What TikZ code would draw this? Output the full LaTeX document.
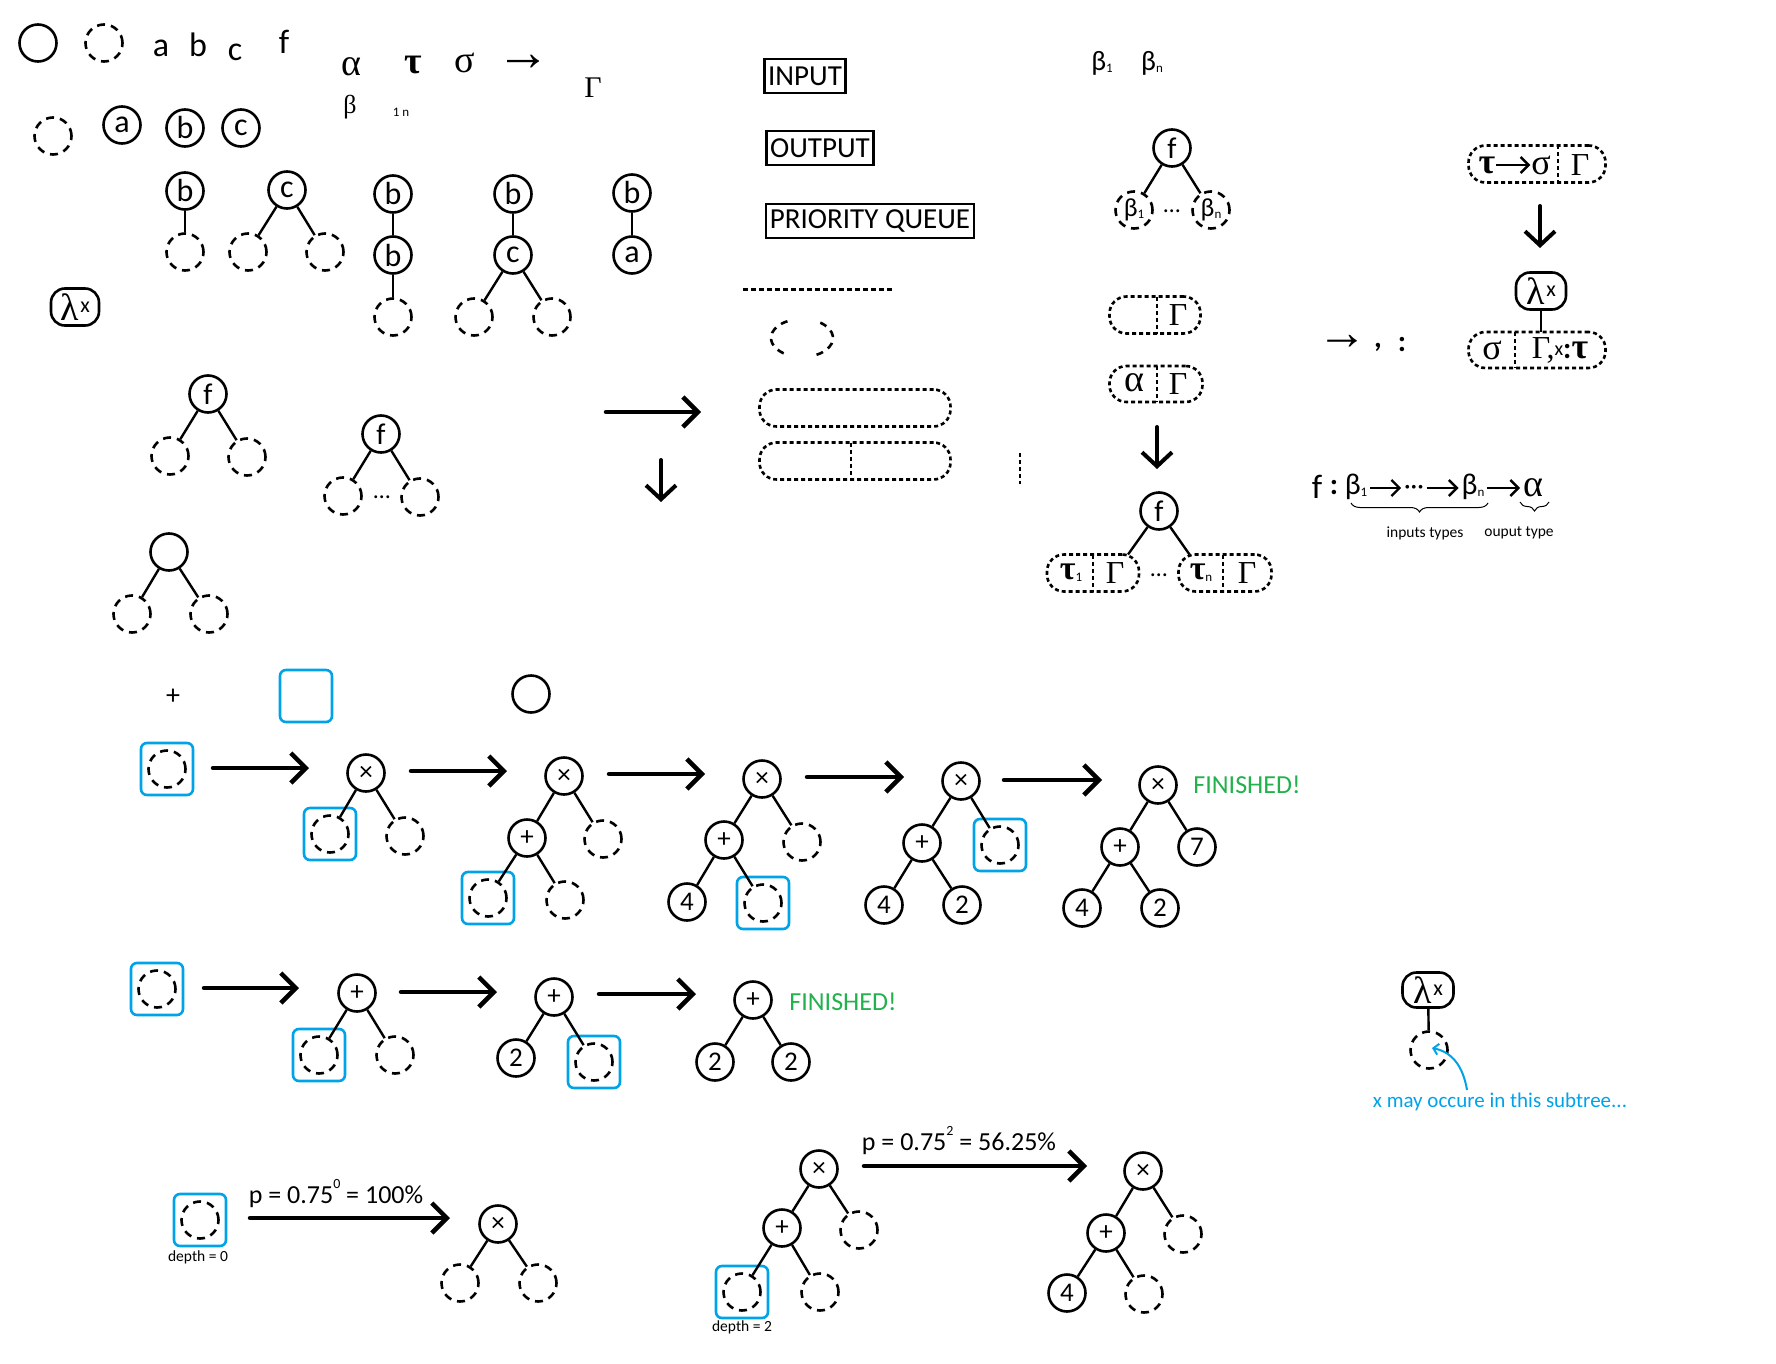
\documentclass[tikz,border=0pt]{standalone}
\usepackage{fontspec}
\setmainfont{Carlito}
\newfontfamily\grk{Liberation Serif}
\usetikzlibrary{arrows.meta, calc, decorations.pathreplacing}
\definecolor{pickblue}{RGB}{0,162,232}
\definecolor{donegreen}{RGB}{34,177,76}
\newcommand\fsz[1]{\fontsize{#1}{#1}\selectfont}
\newcommand\low[1]{\raisebox{-2pt}{\fsz{13}#1}}
\newcommand\sups[1]{\raisebox{15pt}{\fsz{14}#1}}
\newcommand\lamsym{{\grk\fsz{38}λ}\,\raisebox{8pt}{\fsz{22}x}}

\begin{document}
\begin{tikzpicture}[
    x=1pt, y=-1pt,
    leaf/.style={circle, draw, line width=2.6pt, minimum size=37pt, inner sep=0pt, font=\fsz{32}},
    hole/.style={leaf, dash pattern=on 8pt off 6pt},
    opnode/.style={leaf, font=\fsz{27}},
    num/.style={leaf, font=\fsz{27}},
    pick/.style={draw=pickblue, line width=2.6pt, rounded corners=6pt, minimum size=52pt, inner sep=0pt},
    link/.style={line width=2.4pt},
    bigarrow/.style={line width=4.5pt, line cap=round, -{Straight Barb[length=15pt,width=30pt]}},
    downarrow/.style={line width=4pt, line cap=round, -{Straight Barb[length=14pt,width=30pt]}},
    thinarrow/.style={line width=2.4pt, -{Straight Barb[length=8pt,width=16pt]}},
    hintarrow/.style={line width=2pt, pickblue, -{Straight Barb[length=5pt,width=11pt]}},
    capsule/.style={draw, line width=2.6pt, dash pattern=on 4pt off 3pt, rounded corners=17pt, minimum height=37pt, inner sep=0pt, outer sep=0pt},
    capline/.style={line width=2.6pt, dash pattern=on 4pt off 3pt},
    tag/.style={draw, line width=2.8pt, inner xsep=4pt, inner ysep=0pt, minimum height=34pt, font=\fsz{29}},
    lam/.style={draw, line width=2.6pt, rounded corners=14pt, minimum width=48pt, minimum height=37pt, inner sep=0pt},
    glyph/.style={inner sep=0pt, font=\fsz{34}},
    greek/.style={inner sep=0pt, font=\grk\fsz{38}},
    done/.style={inner sep=0pt, text=donegreen, font=\fsz{26}},
    minor/.style={inner sep=0pt, font=\fsz{15.5}},
    plabel/.style={inner sep=0pt, anchor=base, font=\fsz{26}},
    typebrace/.style={line width=1pt, decorate, decoration={brace, mirror, amplitude=9pt}}
]
    \useasboundingbox (0,0) rectangle (1776,1364);

    % glyph sheet
    \node[leaf] (plain) at (38,43) {};
    \node[hole] (open) at (104,43) {};
    \node[glyph] (ta) at (161,48) {a};
    \node[glyph] (tb) at (198,45) {b};
    \node[glyph] (tc) at (235,52) {c};
    \node[glyph] (tf) at (284,42) {f};
    \node[greek] (galpha) at (351,67) {α};
    \node[greek, font=\grk\bfseries\fsz{38}] (gtau) at (413,65) {τ};
    \node[greek] (gsigma) at (465,63) {σ};
    \node[greek, font=\grk\fsz{54}] (gto) at (523,63) {→};
    \node[greek, font=\grk\fsz{30}] (ggamma) at (593,88) {Γ};
    \node[greek, font=\grk\fsz{26}] (gbeta) at (350,107) {β};
    \node[inner sep=0pt, font=\fsz{13}] (gidx) at (401,112) {1 n};

    \node[hole] (free) at (53,136) {};
    \node[leaf] (la) at (122,125) {a};
    \node[leaf] (lb) at (185,128) {b};
    \node[leaf] (lc) at (241,128) {c};
    \node[lam] (lamx) at (75,307) {\lamsym};

    % small trees
    \node[leaf] (ub) at (185,191) {b};
    \node[hole] (ubk) at (185,252) {};
    \node[leaf] (bc) at (287,190) {c};
    \node[hole] (bcl) at (248,252) {};
    \node[hole] (bcr) at (325,252) {};
    \node[leaf] (bbt) at (393,194) {b};
    \node[leaf] (bbm) at (393,255) {b};
    \node[hole] (bbk) at (393,317) {};
    \node[leaf] (bct) at (513,194) {b};
    \node[leaf] (bcm) at (513,255) {c};
    \node[hole] (bcml) at (474,317) {};
    \node[hole] (bcmr) at (552,317) {};
    \node[leaf] (bat) at (632,193) {b};
    \node[leaf] (bak) at (632,255) {a};
    \draw[link] (ub) -- (ubk);
    \draw[link] (bc) -- (bcl);
    \draw[link] (bc) -- (bcr);
    \draw[link] (bbt) -- (bbm);
    \draw[link] (bbm) -- (bbk);
    \draw[link] (bct) -- (bcm);
    \draw[link] (bcm) -- (bcml);
    \draw[link] (bcm) -- (bcmr);
    \draw[link] (bat) -- (bak);

    \node[leaf, font=\fsz{30}] (fa) at (208,394) {f};
    \node[hole] (fal) at (170,456) {};
    \node[hole] (far) at (247,457) {};
    \node[leaf, font=\fsz{30}] (fn) at (381,434) {f};
    \node[hole] (fnl) at (343,496) {};
    \node[hole] (fnr) at (420,497) {};
    \node[inner sep=0pt, font=\fsz{24}] (fndots) at (382,497) {…};
    \node[leaf] (ea) at (169,552) {};
    \node[hole] (eal) at (132,614) {};
    \node[hole] (ear) at (209,614) {};
    \draw[link] (fa) -- (fal);
    \draw[link] (fa) -- (far);
    \draw[link] (fn) -- (fnl);
    \draw[link] (fn) -- (fnr);
    \draw[link] (ea) -- (eal);
    \draw[link] (ea) -- (ear);

    % arrows and boxes in the middle
    \coordinate (mr1) at (606,412);
    \coordinate (mr2) at (701,412);
    \coordinate (md1) at (661,460);
    \coordinate (md2) at (661,502);
    \draw[bigarrow] (mr1) -- (mr2);
    \draw[downarrow] (md1) -- (md2);

    \node[tag] (input) at (805,76) {INPUT};
    \node[tag] (output) at (820,148) {OUTPUT};
    \node[tag] (queue) at (870,221) {PRIORITY QUEUE};
    \draw[line width=3pt, dash pattern=on 5pt off 3pt] (743,289) -- (892,289);
    \draw[line width=2.6pt, dash pattern=on 7pt off 6pt] (802,338) ++(118:31pt and 19pt) arc[start angle=118, end angle=242, x radius=31pt, y radius=19pt];
    \draw[line width=2.6pt, dash pattern=on 7pt off 6pt] (802,338) ++(-62:31pt and 19pt) arc[start angle=-62, end angle=62, x radius=31pt, y radius=19pt];
    \node[capsule, minimum width=191pt] (cap1) at (855,408) {};
    \node[capsule, minimum width=191pt] (cap2) at (855,461) {};
    \draw[capline] (cap2.north -| 851,0) -- (cap2.south -| 851,0);
    \draw[capline] (1020,453) -- (1020,484);

    % application column
    \node[inner sep=0pt, font=\fsz{28}] (beta1) at (1102,63) {β\low{1}};
    \node[inner sep=0pt, font=\fsz{28}] (betan) at (1152,63) {β\low{n}};
    \node[leaf, font=\fsz{30}] (fb) at (1172,148) {f};
    \node[hole, font=\fsz{26}] (fb1) at (1134,210) {β\low{1}};
    \node[hole, font=\fsz{26}] (fbn) at (1211,210) {β\low{n}};
    \node[inner sep=0pt, font=\fsz{24}] (fbdots) at (1172,211) {…};
    \draw[link] (fb) -- (fb1);
    \draw[link] (fb) -- (fbn);

    \node[capsule, minimum width=91pt] (gcap) at (1155,315) {};
    \draw[capline] (gcap.north -| 1157,0) -- (gcap.south -| 1157,0);
    \node[greek, font=\grk\fsz{32}] (gcapg) at (1178,315) {Γ};
    \node[capsule, minimum width=93pt, minimum height=36pt] (acap) at (1156,384) {};
    \draw[capline] (acap.north -| 1157,0) -- (acap.south -| 1157,0);
    \node[greek] (acapa) at (1134,383) {α};
    \node[greek, font=\grk\fsz{32}] (acapg) at (1178,384) {Γ};
    \coordinate (ad1) at (1157,427);
    \coordinate (ad2) at (1157,469);
    \draw[downarrow] (ad1) -- (ad2);

    \node[leaf, font=\fsz{30}] (ft) at (1159,511) {f};
    \node[capsule, minimum width=92pt] (t1cap) at (1093,573) {};
    \draw[capline] (t1cap.north -| 1093,0) -- (t1cap.south -| 1093,0);
    \node[greek, font=\grk\bfseries\fsz{34}] (t1t) at (1071,573) {τ\low{\normalfont 1}};
    \node[greek, font=\grk\fsz{32}] (t1g) at (1115,573) {Γ};
    \node[capsule, minimum width=93pt] (tncap) at (1225,573) {};
    \draw[capline] (tncap.north -| 1223,0) -- (tncap.south -| 1223,0);
    \node[greek, font=\grk\bfseries\fsz{34}] (tnt) at (1201,573) {τ\low{\normalfont n}};
    \node[greek, font=\grk\fsz{32}] (tng) at (1247,573) {Γ};
    \node[inner sep=0pt, font=\fsz{24}] (tdots) at (1159,575) {…};
    \draw[link] (ft) -- ($(t1cap.north east)+(-11,0)$);
    \draw[link] (ft) -- ($(tncap.north west)+(11,0)$);

    % abstraction column
    \node[capsule, minimum width=137pt] (fcap) at (1537,164) {};
    \draw[capline] (fcap.north -| 1558,0) -- (fcap.south -| 1558,0);
    \node[greek, font=\grk\bfseries\fsz{36}, outer sep=1pt] (fct) at (1487,165) {τ};
    \node[greek, font=\grk\fsz{36}, outer sep=1pt] (fcs) at (1541,165) {σ};
    \node[greek, font=\grk\fsz{32}] (fcg) at (1580,165) {Γ};
    \draw[thinarrow] (fct.east |- fcs) -- (fcs.west);
    \coordinate (rd1) at (1540,206);
    \coordinate (rd2) at (1540,248);
    \draw[downarrow] (rd1) -- (rd2);
    \node[lam, minimum width=50pt] (lamr) at (1541,291) {\lamsym};
    \node[capsule, minimum width=137pt, minimum height=36pt] (bcap) at (1537,350) {};
    \draw[capline] (bcap.north -| 1515,0) -- (bcap.south -| 1515,0);
    \node[greek, font=\grk\fsz{36}] (bcs) at (1492,350) {σ};
    \node[inner sep=0pt] (bcrest) at (1560,350) {{\grk\fsz{32}Γ,}\raisebox{3pt}{\fsz{20}x}{\fsz{30}\bfseries :}{\grk\bfseries\fsz{36}τ}};
    \draw[link] (lamr.south) -- (lamr.south |- bcap.north);

    \node[greek, font=\grk\fsz{50}] (sto) at (1342,342) {→};
    \node[glyph, font=\bfseries\fsz{30}] (scomma) at (1378,347) {,};
    \node[glyph, font=\bfseries\fsz{30}] (scolon) at (1402,345) {:};

    % signature of f
    \coordinate (fmid) at (0,488);
    \node[glyph] (sf) at (1317,487) {f};
    \node[glyph, font=\bfseries\fsz{30}] (scol) at (1334,488) {:};
    \node[glyph, font=\fsz{30}, outer sep=3pt] (sb1) at (1356,487) {β\low{1}};
    \node[glyph, font=\fsz{26}, outer sep=3pt] (sdots) at (1414,490) {···};
    \node[glyph, font=\fsz{30}, outer sep=3pt] (sbn) at (1473,487) {β\low{n}};
    \node[greek, outer sep=3pt] (salpha) at (1533,488) {α};
    \draw[thinarrow] (sb1.east |- fmid) -- (sdots.west |- fmid);
    \draw[thinarrow] (sdots.east |- fmid) -- (sbn.west |- fmid);
    \draw[thinarrow] (sbn.east |- fmid) -- (salpha.west |- fmid);
    \draw[typebrace] (1351,503) -- (1488,503);
    \draw[typebrace] (1520,502) -- (1549,502);
    \node[minor] (intypes) at (1425,533) {inputs types};
    \node[minor] (outtype) at (1519,533) {ouput type};

    % search legend
    \node[glyph, font=\fsz{28}] (plus) at (173,697) {+};
    \node[pick] (emptypick) at (306,696) {};
    \node[leaf] (emptyleaf) at (531,694) {};

    % first expansion row
    \node[pick] (a0box) at (167,769) {};
    \node[hole] (a0) at (167,769) {};
    \node[opnode] (a1) at (366,773) {×};
    \node[pick] (a1lbox) at (330,834) {};
    \node[hole] (a1l) at (330,834) {};
    \node[hole] (a1r) at (405,836) {};
    \node[opnode] (a2) at (564,776) {×};
    \node[opnode] (a2l) at (527,838) {+};
    \node[hole] (a2r) at (603,839) {};
    \node[pick] (a2llbox) at (488,898) {};
    \node[hole] (a2ll) at (488,898) {};
    \node[hole] (a2lr) at (565,900) {};
    \node[opnode] (a3) at (762,779) {×};
    \node[opnode] (a3l) at (724,840) {+};
    \node[hole] (a3r) at (802,842) {};
    \node[num] (a3ll) at (687,902) {4};
    \node[pick] (a3lrbox) at (763,903) {};
    \node[hole] (a3lr) at (763,903) {};
    \node[opnode] (a4) at (961,781) {×};
    \node[opnode] (a4l) at (922,843) {+};
    \node[pick] (a4rbox) at (1000,845) {};
    \node[hole] (a4r) at (1000,845) {};
    \node[num] (a4ll) at (884,905) {4};
    \node[num] (a4lr) at (962,905) {2};
    \node[opnode] (a5) at (1158,785) {×};
    \node[opnode] (a5l) at (1120,847) {+};
    \node[num] (a5r) at (1197,847) {7};
    \node[num] (a5ll) at (1082,908) {4};
    \node[num] (a5lr) at (1160,908) {2};
    \node[done] (adone) at (1247,785) {FINISHED!};
    \draw[link] (a1) -- (a1l);
    \draw[link] (a1) -- (a1r);
    \draw[link] (a2) -- (a2l);
    \draw[link] (a2) -- (a2r);
    \draw[link] (a2l) -- (a2ll);
    \draw[link] (a2l) -- (a2lr);
    \draw[link] (a3) -- (a3l);
    \draw[link] (a3) -- (a3r);
    \draw[link] (a3l) -- (a3ll);
    \draw[link] (a3l) -- (a3lr);
    \draw[link] (a4) -- (a4l);
    \draw[link] (a4) -- (a4r);
    \draw[link] (a4l) -- (a4ll);
    \draw[link] (a4l) -- (a4lr);
    \draw[link] (a5) -- (a5l);
    \draw[link] (a5) -- (a5r);
    \draw[link] (a5l) -- (a5ll);
    \draw[link] (a5l) -- (a5lr);
    \coordinate (a01s) at (213,768);
    \coordinate (a01e) at (309,768);
    \coordinate (a12s) at (411,771);
    \coordinate (a12e) at (507,771);
    \coordinate (a23s) at (609,774);
    \coordinate (a23e) at (705,774);
    \coordinate (a34s) at (807,777);
    \coordinate (a34e) at (904,777);
    \coordinate (a45s) at (1004,780);
    \coordinate (a45e) at (1102,780);
    \draw[bigarrow] (a01s) -- (a01e);
    \draw[bigarrow] (a12s) -- (a12e);
    \draw[bigarrow] (a23s) -- (a23e);
    \draw[bigarrow] (a34s) -- (a34e);
    \draw[bigarrow] (a45s) -- (a45e);

    % second expansion row
    \node[pick] (b0box) at (157,989) {};
    \node[hole] (b0) at (157,989) {};
    \node[opnode] (b1) at (357,993) {+};
    \node[pick] (b1lbox) at (319,1055) {};
    \node[hole] (b1l) at (319,1055) {};
    \node[hole] (b1r) at (395,1055) {};
    \node[opnode] (b2) at (554,997) {+};
    \node[num] (b2l) at (516,1058) {2};
    \node[pick] (b2rbox) at (594,1062) {};
    \node[hole] (b2r) at (594,1062) {};
    \node[opnode] (b3) at (753,1000) {+};
    \node[num] (b3l) at (715,1062) {2};
    \node[num] (b3r) at (791,1062) {2};
    \node[done] (bdone) at (843,1002) {FINISHED!};
    \draw[link] (b1) -- (b1l);
    \draw[link] (b1) -- (b1r);
    \draw[link] (b2) -- (b2l);
    \draw[link] (b2) -- (b2r);
    \draw[link] (b3) -- (b3l);
    \draw[link] (b3) -- (b3r);
    \coordinate (b01s) at (204,988);
    \coordinate (b01e) at (299,988);
    \coordinate (b12s) at (401,992);
    \coordinate (b12e) at (497,992);
    \coordinate (b23s) at (599,994);
    \coordinate (b23e) at (696,994);
    \draw[bigarrow] (b01s) -- (b01e);
    \draw[bigarrow] (b12s) -- (b12e);
    \draw[bigarrow] (b23s) -- (b23e);

    % lambda scope note
    \node[lam, minimum width=51pt, minimum height=35pt] (lamn) at (1428,990) {\lamsym};
    \node[hole] (lamnk) at (1429,1050) {};
    \draw[link] (lamn) -- (lamnk);
    \node[inner sep=0pt, text=pickblue, font=\fsz{21}] (note) at (1500,1102) {x may occure in this subtree...};
    \coordinate (notefoot) at (1467,1090);
    \draw[hintarrow] (notefoot) .. controls (1463,1066) and (1452,1052) .. ($(lamnk.center)+(3,-2)$);

    % depth probability
    \node[pick] (c0box) at (200,1220) {};
    \node[hole] (c0) at (200,1220) {};
    \node[minor] (c0lab) at (198,1257) {depth = 0};
    \node[plabel] (c01lab) at (336,1203) {p = 0.75\sups{0} = 100\%};
    \coordinate (c01s) at (250,1218);
    \coordinate (c01e) at (450,1218);
    \draw[bigarrow] (c01s) -- (c01e);
    \node[opnode] (c1) at (498,1224) {×};
    \node[hole] (c1l) at (460,1283) {};
    \node[hole] (c1r) at (538,1283) {};
    \draw[link] (c1) -- (c1l);
    \draw[link] (c1) -- (c1r);

    \node[opnode] (d0) at (819,1169) {×};
    \node[opnode] (d0l) at (782,1228) {+};
    \node[hole] (d0r) at (859,1230) {};
    \node[pick] (d0llbox) at (742,1292) {};
    \node[hole] (d0ll) at (742,1292) {};
    \node[hole] (d0lr) at (820,1292) {};
    \node[minor] (d0lab) at (742,1327) {depth = 2};
    \draw[link] (d0) -- (d0l);
    \draw[link] (d0) -- (d0r);
    \draw[link] (d0l) -- (d0ll);
    \draw[link] (d0l) -- (d0lr);
    \node[plabel] (d01lab) at (959,1150) {p = 0.75\sups{2} = 56.25\%};
    \coordinate (d01s) at (864,1166);
    \coordinate (d01e) at (1087,1166);
    \draw[bigarrow] (d01s) -- (d01e);
    \node[opnode] (d1) at (1143,1171) {×};
    \node[opnode] (d1l) at (1106,1233) {+};
    \node[hole] (d1r) at (1183,1234) {};
    \node[num] (d1ll) at (1067,1293) {4};
    \node[hole] (d1lr) at (1144,1294) {};
    \draw[link] (d1) -- (d1l);
    \draw[link] (d1) -- (d1r);
    \draw[link] (d1l) -- (d1ll);
    \draw[link] (d1l) -- (d1lr);
\end{tikzpicture}
\end{document}
